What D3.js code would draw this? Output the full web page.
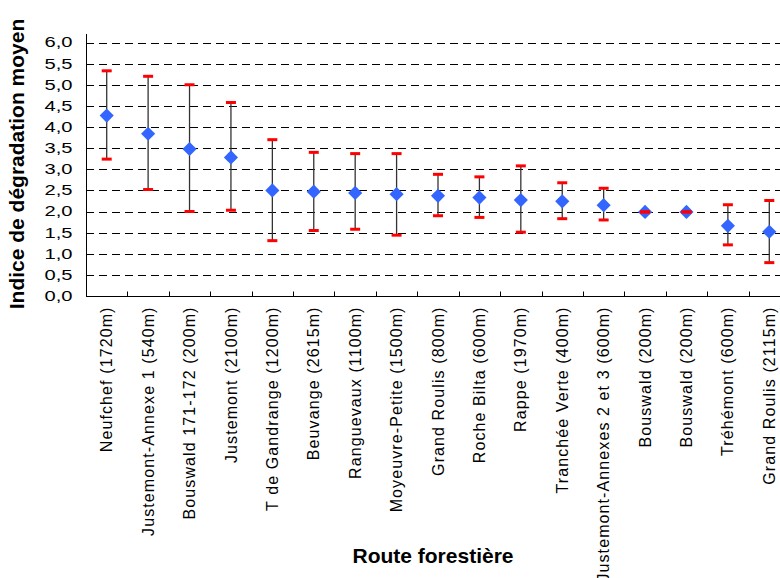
<!DOCTYPE html>
<html>
<head>
<meta charset="utf-8">
<script src="https://cdn.jsdelivr.net/npm/d3@7"></script>
<style>
  body { margin: 0; background: #fff; }
  text { font-family: "Liberation Sans", Arial, sans-serif; }
</style>
</head>
<body>
<svg id="chart" width="780" height="578"></svg>
<script>
// routes, in plotted order
var routes = ["Neufchef (1720m)", "Justemont-Annexe 1 (540m)", "Bouswald 171-172 (200m)",
  "Justemont (2100m)", "T de Gandrange (1200m)", "Beuvange (2615m)", "Ranguevaux (1100m)",
  "Moyeuvre-Petite (1500m)", "Grand Roulis (800m)", "Roche Bilta (600m)", "Rappe (1970m)",
  "Tranchée Verte (400m)", "Justemont-Annexes 2 et 3 (600m)", "Bouswald (200m)",
  "Bouswald (200m) ", "Tréhémont (600m)", "Grand Roulis  (2115m)"];
var moyenne = [4.27, 3.84, 3.48, 3.28, 2.50, 2.47, 2.44, 2.41, 2.37, 2.33, 2.27, 2.24, 2.15, 1.99, 1.99, 1.66, 1.52];
var haut    = [5.33, 5.20, 5.00, 4.58, 3.70, 3.40, 3.37, 3.37, 2.88, 2.82, 3.08, 2.68, 2.55, 1.99, 1.99, 2.16, 2.26];
var bas     = [3.24, 2.52, 2.00, 2.03, 1.31, 1.55, 1.58, 1.44, 1.90, 1.86, 1.51, 1.83, 1.80, 1.99, 1.99, 1.21, 0.79];
var yTicks  = [0, 0.5, 1, 1.5, 2, 2.5, 3, 3.5, 4, 4.5, 5, 5.5, 6];

var data = routes.map(function(r, i) {
  return { route: r, m: moyenne[i], hi: haut[i], lo: bas[i] };
});

var svg = d3.select("#chart");
var mLeft = 86, mRight = 790, mTop = 42.5, mBottom = 296;

var x = d3.scaleBand().domain(routes).range([mLeft, mRight]);
var y = d3.scaleLinear().domain([0, 6]).range([mBottom, mTop]);
var fmt = function(d) { return d3.format(".1f")(d).replace(".", ","); };

// grid
svg.append("g")
  .selectAll("line")
  .data(yTicks.filter(function(d) { return d > 0; }))
  .enter().append("line")
  .attr("x1", mLeft).attr("x2", 780)
  .attr("y1", function(d) { return Math.round(y(d)) + 0.5; })
  .attr("y2", function(d) { return Math.round(y(d)) + 0.5; })
  .attr("stroke", "#000")
  .attr("stroke-dasharray", "8,5");

// y axis
var yAxis = svg.append("g")
  .attr("transform", "translate(" + (mLeft + 0.5) + ",0)")
  .call(d3.axisLeft(y).tickValues(yTicks).tickFormat(fmt).tickSize(0).tickPadding(14));
yAxis.select(".domain").attr("stroke", "#000").attr("d", "M0," + (mBottom + 0.5) + "V34");
yAxis.selectAll("text")
  .attr("font-size", "14px").attr("fill", "#000")
  .attr("textLength", 28).attr("lengthAdjust", "spacingAndGlyphs")
  .style("font-family", "Liberation Sans, Arial, sans-serif");

// x axis, ticks between bands pointing inwards
var xAxis = svg.append("g").attr("transform", "translate(0," + (mBottom + 0.5) + ")");
xAxis.append("line").attr("x1", mLeft).attr("x2", 780).attr("stroke", "#000");
xAxis.selectAll(".tk")
  .data(routes.slice(1))
  .enter().append("line")
  .attr("class", "tk")
  .attr("x1", function(d) { return Math.round(x(d)) + 0.5; })
  .attr("x2", function(d) { return Math.round(x(d)) + 0.5; })
  .attr("y1", 0).attr("y2", -5)
  .attr("stroke", "#000");

xAxis.selectAll(".lbl")
  .data(routes)
  .enter().append("text")
  .attr("class", "lbl")
  .attr("transform", function(d) {
    return "translate(" + (x(d) + x.bandwidth() / 2) + ",10) rotate(-90)";
  })
  .attr("dy", "0.35em")
  .attr("text-anchor", "end")
  .attr("font-size", "16px")
  .attr("letter-spacing", "1.1px")
  .attr("fill", "#000")
  .text(function(d) { return d.trim(); });

// error bars
var cx = function(d) { return x(d.route) + x.bandwidth() / 2; };
svg.append("g").selectAll("line")
  .data(data)
  .enter().append("line")
  .attr("x1", cx).attr("x2", cx)
  .attr("y1", function(d) { return y(d.hi); })
  .attr("y2", function(d) { return y(d.lo); })
  .attr("stroke", "#333")
  .attr("stroke-width", 1.3);

// markers
svg.append("g").selectAll("rect")
  .data(data)
  .enter().append("rect")
  .attr("x", -5).attr("y", -5).attr("width", 10).attr("height", 10)
  .attr("transform", function(d) { return "translate(" + cx(d) + "," + y(d.m) + ") rotate(45)"; })
  .attr("fill", "#3366FF");

// caps
var caps = [];
data.forEach(function(d) { caps.push({ d: d, v: d.hi }); caps.push({ d: d, v: d.lo }); });
svg.append("g").selectAll("line")
  .data(caps)
  .enter().append("line")
  .attr("x1", function(c) { return cx(c.d) - 5; })
  .attr("x2", function(c) { return cx(c.d) + 5; })
  .attr("y1", function(c) { return y(c.v); })
  .attr("y2", function(c) { return y(c.v); })
  .attr("stroke", "#FF0000")
  .attr("stroke-width", 3);

// titles
svg.append("text")
  .attr("transform", "translate(24,164) rotate(-90)")
  .attr("text-anchor", "middle")
  .attr("font-size", "21px")
  .attr("font-weight", "bold")
  .text("Indice de dégradation moyen");

svg.append("text")
  .attr("x", 433).attr("y", 563)
  .attr("text-anchor", "middle")
  .attr("font-size", "21px")
  .attr("font-weight", "bold")
  .text("Route forestière");
</script>
</body>
</html>
